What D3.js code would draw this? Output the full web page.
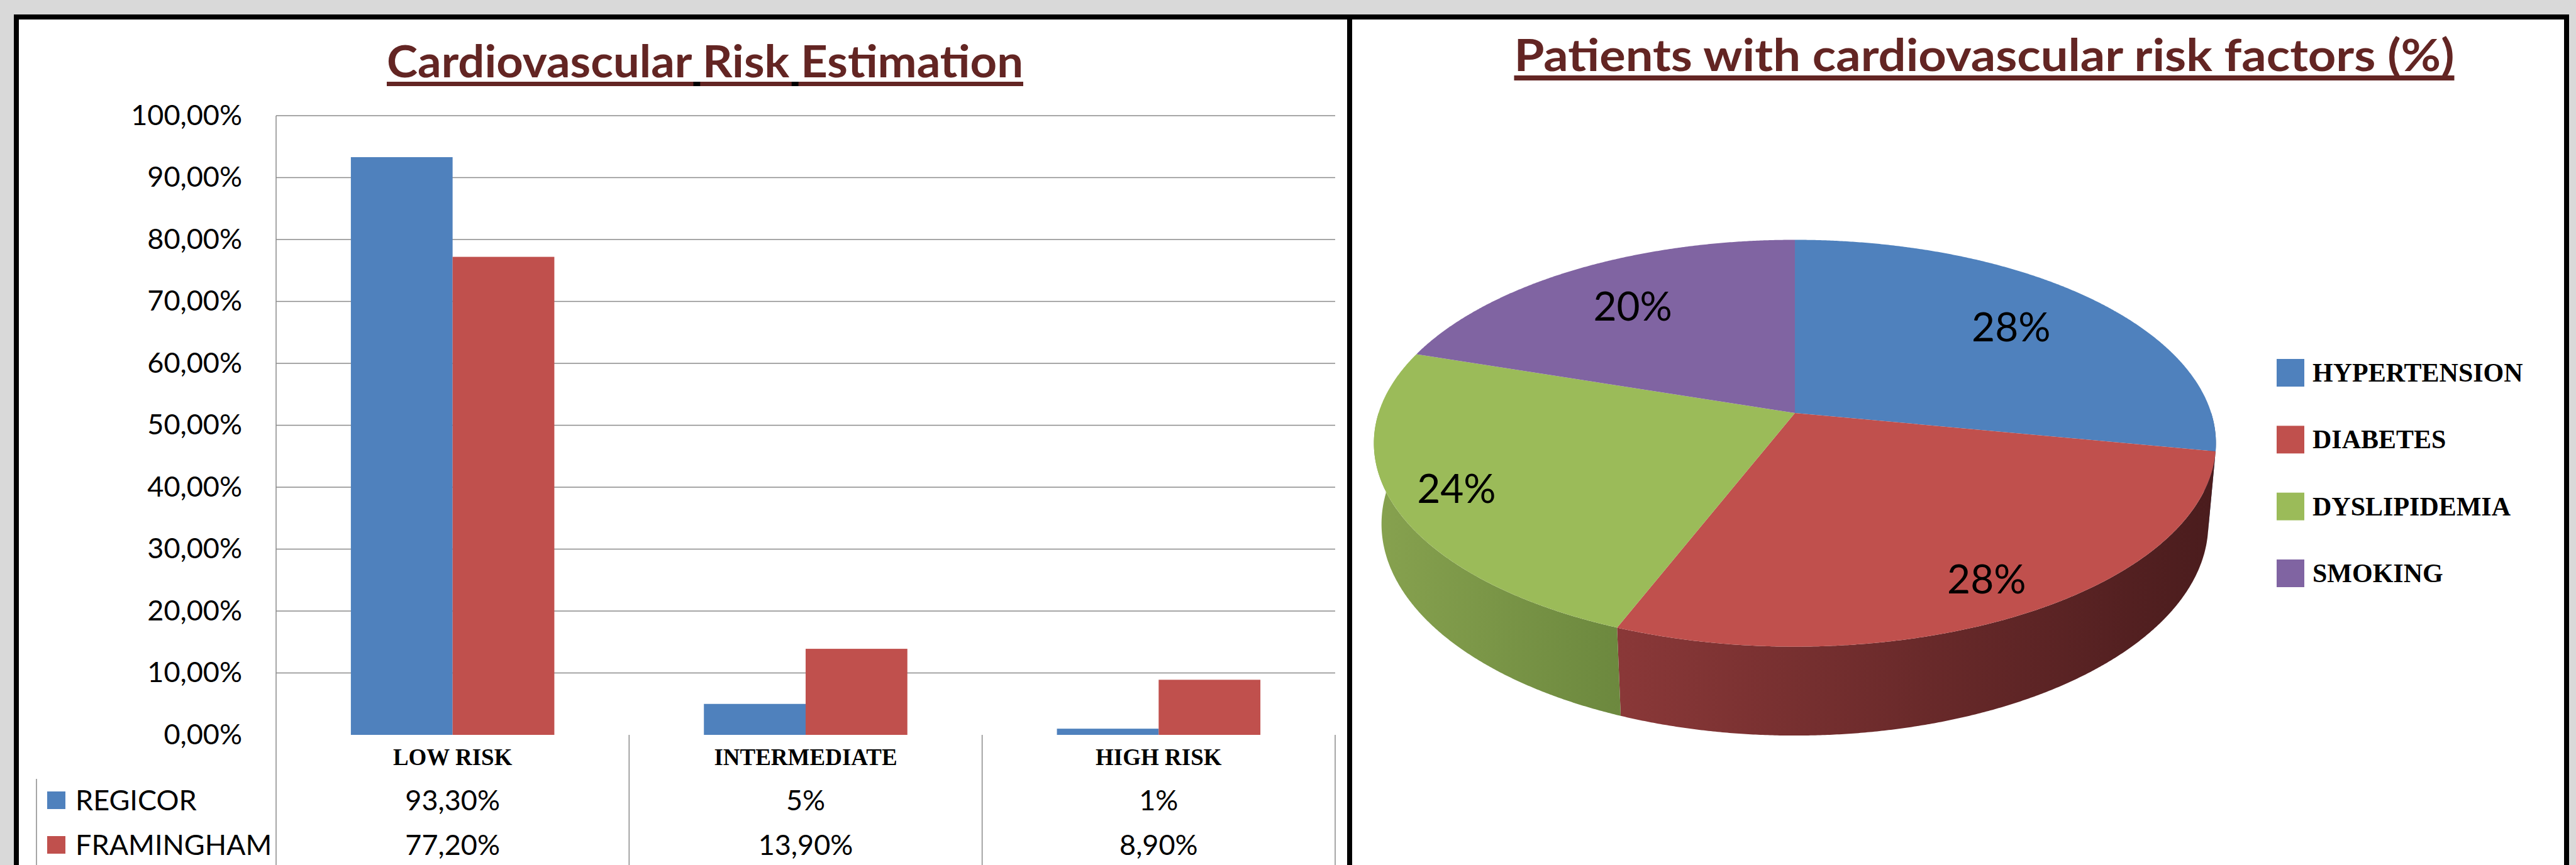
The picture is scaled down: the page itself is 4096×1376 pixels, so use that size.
<!DOCTYPE html>
<html>
<head>
<meta charset="utf-8">
<script src="https://cdn.jsdelivr.net/npm/d3@7"></script>
<style>
  body { margin: 0; background: #d9d9d9; }
  svg { display: block; }
</style>
</head>
<body>
<svg id="chart"></svg>
<script>
// ---- data ----
const riskCategories = ['LOW RISK', 'INTERMEDIATE', 'HIGH RISK']
const riskSeries = ['REGICOR', 'FRAMINGHAM']
const regicorValues = [93.3, 5, 1]
const framinghamValues = [77.2, 13.9, 8.9]
const regicorLabels = ['93,30%', '5%', '1%']
const framinghamLabels = ['77,20%', '13,90%', '8,90%']
const yTickValues = [0, 10, 20, 30, 40, 50, 60, 70, 80, 90, 100]

const factorNames = ['HYPERTENSION', 'DIABETES', 'DYSLIPIDEMIA', 'SMOKING']
const factorValues = [28, 28, 24, 20]
const factorLabels = ['28%', '28%', '24%', '20%']

const barTitle = 'Cardiovascular Risk Estimation'
const pieTitle = 'Patients with cardiovascular risk factors (%)'

// ---- styles ----
const W = 4096, H = 1376
const seriesColors = ['#4f81bd', '#c0504d']
const pieColors = ['#4f81bd', '#c0504d', '#9bbb59', '#8064a2']
const sideColors = [['#3c6496', '#2a4a70'], ['#8a3838', '#4a1c1d'], ['#87a24f', '#6c883e'], ['#634d80', '#4d3b64']]
const titleColor = '#632523'
const sansFont = 'Lato, "Open Sans", sans-serif'
const serifFont = '"Liberation Serif", "Times New Roman", serif'

const svg = d3.select('#chart').attr('width', W).attr('height', H)

// frame
svg.append('rect').attr('width', W).attr('height', H).attr('fill', '#d9d9d9')
svg.append('rect').attr('x', 22).attr('y', 23).attr('width', 4063).attr('height', H - 23).attr('fill', '#fff')
let frame = [[22, 23, 4063, 8], [22, 23, 8, H], [2142, 23, 8, H], [4077, 23, 8, H]]
svg.selectAll('rect.frame').data(frame).enter().append('rect')
    .attr('class', 'frame')
    .attr('x', d => d[0]).attr('y', d => d[1])
    .attr('width', d => d[2]).attr('height', d => d[3])
    .attr('fill', '#000')

// titles with thick underline
function title (text, cx, baseline, len, size, ulY, ulH) {
    let t = svg.append('text')
        .attr('x', cx).attr('y', baseline)
        .attr('text-anchor', 'middle')
        .attr('font-family', sansFont).attr('font-weight', 700)
        .attr('font-size', size).attr('fill', titleColor)
        .attr('textLength', len).attr('lengthAdjust', 'spacingAndGlyphs')
        .text(text)
    svg.append('rect').attr('x', cx - len / 2).attr('y', ulY)
        .attr('width', len).attr('height', ulH).attr('fill', titleColor)
    return t
}
let t1 = title(barTitle, 1121, 123, 1012, 70, 130, 7)
title(pieTitle, 3155, 113, 1495, 70, 120, 8)

// black bits under the spaces of the left title
try {
    let node = t1.node()
    for (let i = 0; i < barTitle.length; i++) {
        if (barTitle[i] !== ' ') continue
        let e = node.getExtentOfChar(i)
        svg.append('rect').attr('x', e.x + e.width * 0.2).attr('y', 130)
            .attr('width', e.width * 0.6).attr('height', 7).attr('fill', '#000')
    }
} catch (err) {}

// ---- bar chart ----
const plot = { left: 439, right: 2123, top: 184, bottom: 1169 }

const y = d3.scaleLinear().domain([0, 100]).range([plot.bottom, plot.top])
const x0 = d3.scaleBand().domain(riskCategories).range([plot.left, plot.right])
const x1 = d3.scaleBand().domain(riskSeries).range([0, x0.bandwidth()])
    .paddingInner(0).paddingOuter(0.735)

// gridlines
svg.append('g').selectAll('line').data(yTickValues.filter(v => v > 0)).enter()
    .append('line')
    .attr('x1', plot.left).attr('x2', plot.right)
    .attr('y1', d => y(d)).attr('y2', d => y(d))
    .attr('stroke', '#8a8a8a').attr('stroke-width', 1.5)

// y labels
let yAxis = svg.append('g').attr('transform', `translate(${plot.left},0)`)
    .call(d3.axisLeft(y).tickValues(yTickValues).tickSize(0).tickPadding(54)
        .tickFormat(d => d.toFixed(2).replace('.', ',') + '%'))
yAxis.select('.domain').remove()
yAxis.selectAll('text').attr('font-family', sansFont).attr('font-size', 45).attr('fill', '#000')

// bars
let barData = riskCategories.map((c, i) => ({
    cat: c,
    vals: [{ s: riskSeries[0], v: regicorValues[i] }, { s: riskSeries[1], v: framinghamValues[i] }]
}))
let color = d3.scaleOrdinal().domain(riskSeries).range(seriesColors)

svg.append('g').selectAll('g').data(barData).enter()
    .append('g')
    .attr('transform', d => `translate(${x0(d.cat)},0)`)
    .selectAll('rect').data(d => d.vals).enter()
    .append('rect')
    .attr('x', d => x1(d.s))
    .attr('y', d => y(d.v))
    .attr('width', x1.bandwidth())
    .attr('height', d => y(0) - y(d.v))
    .attr('fill', d => color(d.s))

// data table lines
svg.append('line').attr('x1', plot.left).attr('x2', plot.left)
    .attr('y1', plot.top).attr('y2', H).attr('stroke', '#8a8a8a').attr('stroke-width', 1.5)
svg.append('g').selectAll('line').data(riskCategories).enter()
    .append('line')
    .attr('x1', d => x0(d) + x0.bandwidth()).attr('x2', d => x0(d) + x0.bandwidth())
    .attr('y1', plot.bottom).attr('y2', H)
    .attr('stroke', '#8a8a8a').attr('stroke-width', 1.5)
svg.append('line').attr('x1', 58).attr('x2', 58)
    .attr('y1', 1239).attr('y2', H).attr('stroke', '#8a8a8a').attr('stroke-width', 1.5)

// category labels
svg.append('g').selectAll('text').data(riskCategories).enter()
    .append('text')
    .attr('x', d => x0(d) + x0.bandwidth() / 2)
    .attr('y', 1217)
    .attr('text-anchor', 'middle')
    .attr('font-family', serifFont).attr('font-weight', 700).attr('font-size', 37)
    .text(d => d)

// table rows
const rowY = d3.scalePoint().domain(riskSeries).range([1273, 1344])
let rows = [
    { s: riskSeries[0], labels: regicorLabels },
    { s: riskSeries[1], labels: framinghamLabels }
]
let row = svg.append('g').selectAll('g').data(rows).enter().append('g')
row.append('rect')
    .attr('x', 75).attr('y', d => rowY(d.s) - 14)
    .attr('width', 29).attr('height', 28)
    .attr('fill', d => color(d.s))
row.append('text')
    .attr('x', 120).attr('y', d => rowY(d.s)).attr('dy', '0.35em')
    .attr('font-family', sansFont).attr('font-size', 45)
    .text(d => d.s)
row.selectAll('text.val').data(d => d.labels.map((l, i) => ({ l, c: riskCategories[i], s: d.s }))).enter()
    .append('text')
    .attr('class', 'val')
    .attr('x', d => x0(d.c) + x0.bandwidth() / 2)
    .attr('y', d => rowY(d.s)).attr('dy', '0.35em')
    .attr('text-anchor', 'middle')
    .attr('font-family', sansFont).attr('font-size', 45)
    .text(d => d.l)

// ---- 3D pie ----
const pie = { cx: 2854, cy: 657, R: 662, depth: 0.223, D: 5.91, sinA: 0.478 }
pie.cosA = Math.sqrt(1 - pie.sinA * pie.sinA)
const labelRadius = [0.72, 0.85, 0.85, 0.72]

// perspective projection of a point on the pie disc (angle phi clockwise from back)
function proj (phi, r, h) {
    let x3 = r * Math.sin(phi)
    let z3 = -r * Math.cos(phi)
    let yUp = h * pie.cosA - z3 * pie.sinA
    let d = h * pie.sinA + z3 * pie.cosA
    let k = pie.D / (pie.D - d)
    return [pie.cx + pie.R * x3 * k, pie.cy - pie.R * yUp * k]
}

function arcPoints (a0, a1, h) {
    let n = Math.max(2, Math.ceil(Math.abs(a1 - a0) / 0.005))
    return d3.range(n + 1).map(i => proj(a0 + (a1 - a0) * i / n, 1, h))
}

let slices = d3.pie().sort(null).value(d => d)(factorValues)
let line = d3.line()
let defs = svg.append('defs')

// sides first (front half only)
slices.forEach((s, i) => {
    let lo = Math.max(s.startAngle, Math.PI / 2)
    let hi = Math.min(s.endAngle, 3 * Math.PI / 2)
    if (hi <= lo) return
    let top = arcPoints(lo, hi, 0)
    let bot = arcPoints(hi, lo, -pie.depth)
    let pts = top.concat(bot)
    let xs = pts.map(p => p[0])
    let g = defs.append('linearGradient').attr('id', 'side' + i)
        .attr('gradientUnits', 'userSpaceOnUse')
        .attr('x1', d3.min(xs)).attr('x2', d3.max(xs)).attr('y1', 0).attr('y2', 0)
    g.append('stop').attr('offset', 0).attr('stop-color', sideColors[i][0])
    g.append('stop').attr('offset', 1).attr('stop-color', sideColors[i][1])
    svg.append('path').attr('d', line(pts) + 'Z').attr('fill', `url(#side${i})`)
})

// top faces
svg.append('g').selectAll('path').data(slices).enter()
    .append('path')
    .attr('d', s => line([[pie.cx, pie.cy]].concat(arcPoints(s.startAngle, s.endAngle, 0))) + 'Z')
    .attr('fill', (s, i) => pieColors[i])

// slice labels
svg.append('g').selectAll('text').data(slices).enter()
    .append('text')
    .each(function (s, i) {
        let mid = (s.startAngle + s.endAngle) / 2
        let p = proj(mid, labelRadius[i], 0)
        d3.select(this).attr('x', p[0]).attr('y', p[1])
    })
    .attr('dy', '0.35em')
    .attr('text-anchor', 'middle')
    .attr('font-family', sansFont).attr('font-size', 64)
    .text((s, i) => factorLabels[i])

// legend
const legendY = d3.scalePoint().domain(factorNames).range([593, 912])
let leg = svg.append('g').selectAll('g').data(factorNames).enter().append('g')
leg.append('rect')
    .attr('x', 3620).attr('y', d => legendY(d) - 22)
    .attr('width', 44).attr('height', 44)
    .attr('fill', (d, i) => pieColors[i])
leg.append('text')
    .attr('x', 3677).attr('y', d => legendY(d)).attr('dy', '0.33em')
    .attr('font-family', serifFont).attr('font-weight', 700).attr('font-size', 42)
    .text(d => d)
</script>
</body>
</html>
